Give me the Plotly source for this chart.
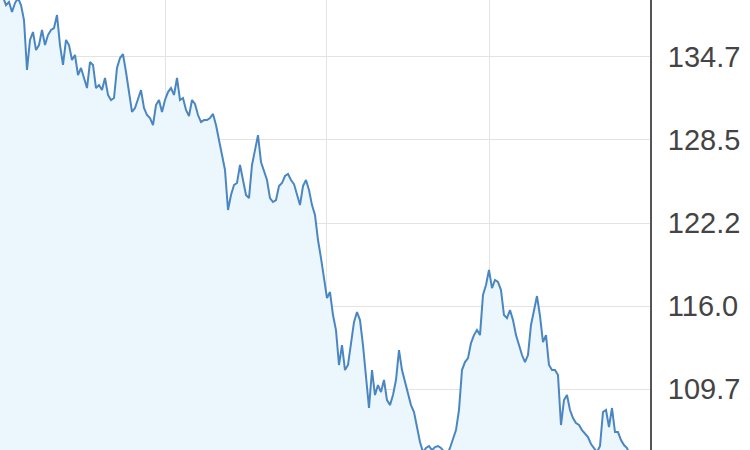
import plotly.graph_objects as go

# Price series (one value per trading day)
prices = [
    139.59, 139.22, 138.61, 138.84, 138.09, 138.76, 139.14, 138.61, 137.48, 133.72,
    135.98, 136.58, 135.22, 135.60, 136.73, 135.60, 136.35, 136.73, 136.88, 137.86,
    135.60, 134.10, 135.98, 135.60, 134.47, 134.85, 133.34, 133.87, 133.12, 132.36,
    134.32, 134.10, 132.36, 132.59, 132.21, 133.12, 131.84, 131.46, 131.61, 133.87,
    134.62, 134.92, 133.57, 132.21, 130.56, 130.86, 131.46, 132.21, 130.86, 130.33,
    130.10, 129.58, 131.08, 131.46, 130.56, 131.46, 132.06, 132.36, 131.84, 133.12,
    131.46, 131.61, 130.71, 130.26, 131.46, 131.16, 130.33, 129.80, 129.95, 129.95,
    130.10, 130.41, 129.58, 128.45, 127.09, 126.19, 123.18, 124.31, 125.06, 125.21,
    126.57, 125.44, 124.31, 124.08, 126.57, 127.69, 128.82, 126.79, 126.19, 125.44,
    124.08, 123.78, 123.93, 124.98, 125.21, 125.74, 125.89, 125.44, 125.13, 124.38,
    123.55, 124.98, 125.44, 124.68, 123.55, 122.80, 120.92, 119.56, 117.91, 116.55,
    117.00, 115.27, 114.14, 111.51, 113.01, 111.13, 111.51, 113.01, 114.74, 115.50,
    114.89, 113.01, 110.75, 108.27, 111.13, 109.25, 110.00, 109.47, 110.38, 108.87,
    108.49, 109.25, 110.38, 112.63, 111.13, 110.23, 109.25, 108.49, 107.97, 106.76,
    105.71, 104.95, 105.26, 105.41, 105.10, 105.33, 105.41, 105.26, 104.95, 104.73,
    105.26, 106.01, 106.61, 108.12, 111.13, 111.73, 112.03, 113.16, 113.76, 114.14,
    113.76, 116.78, 117.53, 118.66, 117.30, 117.91, 117.76, 117.15, 115.27, 115.04,
    115.65, 114.89, 113.76, 113.01, 112.26, 111.73, 112.26, 114.52, 115.65, 116.70,
    115.20, 113.24, 113.76, 111.51, 111.13, 111.13, 110.75, 106.99, 108.87, 109.25,
    108.12, 107.51, 107.14, 106.99, 106.61, 106.31, 106.08, 105.56, 105.26, 104.95,
    105.41, 107.97, 108.12, 106.84, 108.27, 106.46, 106.46, 105.86, 105.48, 105.26,
    104.73, 104.20, 103.75, 103.98, 103.45, 103.00, 102.70,
]
days = list(range(len(prices)))

# Axis ticks
y_tickvals = [109.7, 115.95, 122.2, 128.45, 134.7]
y_ticktext = ["109.7", "116.0", "122.2", "128.5", "134.7"]
x_gridvals = [55, 109, 163.3]

fig = go.Figure()
fig.add_trace(go.Scatter(
    x=days, y=prices, mode="lines",
    line=dict(color="#4a87c2", width=2),
    fill="tozeroy", fillcolor="#ebf6fd",
    hoverinfo="skip",
))

fig.update_layout(
    width=750, height=450,
    margin=dict(l=0, r=100, t=0, b=0),
    paper_bgcolor="white", plot_bgcolor="white",
    showlegend=False,
    xaxis=dict(
        range=[0, 216.67], tickvals=x_gridvals, showticklabels=False,
        showgrid=True, gridcolor="#e3e3e3", gridwidth=1,
        zeroline=False, showline=False, fixedrange=True,
    ),
    yaxis=dict(
        side="right", range=[105.11, 138.99],
        tickvals=y_tickvals, ticktext=y_ticktext,
        showgrid=True, gridcolor="#e3e3e3", gridwidth=1,
        zeroline=False, showline=True, linecolor="#555555", linewidth=2,
        ticks="", ticklabelstandoff=10,
        tickfont=dict(family="Liberation Sans, Arial", size=29, color="#444444"),
        fixedrange=True,
    ),
)

fig.write_html(
    "out.html",
    config={"displayModeBar": False},
    post_script="document.body.style.margin='0';document.body.style.overflow='hidden';",
)
